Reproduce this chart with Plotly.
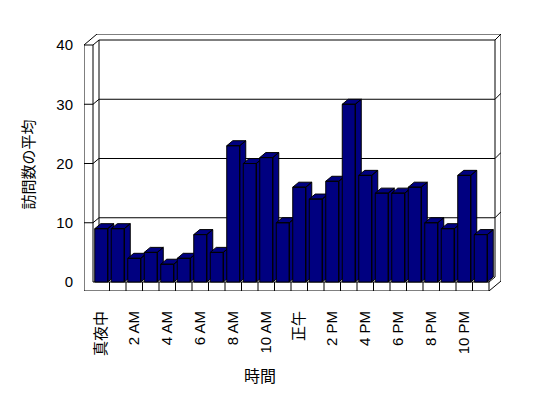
import plotly.graph_objects as go

# ---------------- data ----------------
categories = ["真夜中", "1 AM", "2 AM", "3 AM", "4 AM", "5 AM", "6 AM", "7 AM",
              "8 AM", "9 AM", "10 AM", "11 AM", "正午", "1 PM", "2 PM", "3 PM",
              "4 PM", "5 PM", "6 PM", "7 PM", "8 PM", "9 PM", "10 PM", "11 PM"]
visits = [9, 9, 4, 5, 3, 4, 8, 5, 23, 20, 21, 10, 16, 14, 17, 30,
          18, 15, 15, 16, 10, 9, 18, 8]
y_ticks = [0, 10, 20, 30, 40]
x_title = "時間"
y_title = "訪問数の平均"

# ---------------- geometry / style ----------------
W, H = 548, 398
ML, MR, MT, MB = 84, 47, 34, 107
PXX = 16.5          # px per category
PXY = 5.925         # px per value unit
N = len(categories)
X0, X1 = -0.5, N - 0.5
Y0, Y1 = 0, 40
DX, DY = 6 / PXX, 5 / PXY            # depth offset
WX, WY = 9 / PXX, 9 / PXY            # wall thickness (front)
XOUT_R = X1 + 12 / PXX
YOUT_T = Y1 + 11 / PXY
BAR_HALF = 6.5 / PXX
NAVY = "#000080"
FONT = "Liberation Sans, Noto Sans CJK JP, sans-serif"

fig = go.Figure()

# 3D bars: each bar = front + top + side polygons, painted left to right
for i, v in enumerate(visits):
    xl, xr = i - BAR_HALF, i + BAR_HALF
    xs = [xl, xr, xr, xl, xl, None,
          xl, xr, xr + DX, xl + DX, xl, None,
          xr, xr + DX, xr + DX, xr, xr]
    ys = [0, 0, v, v, 0, None,
          v, v, v + DY, v + DY, v, None,
          0, DY, v + DY, v, 0]
    fig.add_trace(go.Scatter(x=xs, y=ys, mode="lines", fill="toself",
                             fillcolor=NAVY, line=dict(color="black", width=1),
                             hoverinfo="skip", showlegend=False))

shapes = []
def seg(xa, ya, xb, yb):
    shapes.append(dict(type="line", xref="x", yref="y", x0=xa, y0=ya, x1=xb, y1=yb,
                       line=dict(color="black", width=1), layer="below"))

# frame
seg(X0 - WX, Y0 - WY, X0 - WX, Y1)
seg(X0 - WX, Y1, X0, Y1)
seg(X0, Y1, X0, Y0)
seg(X0, Y0, X1, Y0)
seg(X0 - WX, Y0 - WY, X1, Y0 - WY)
seg(X0 - WX, Y1, X0 - WX + 13 / PXX, YOUT_T)
seg(X0, Y1, X0 + DX, Y1 + DY)
seg(X0 + DX, Y1 + DY, X1 + DX, Y1 + DY)
seg(X0 - WX + 13 / PXX, YOUT_T, XOUT_R, YOUT_T)
seg(X1 + DX, Y1 + DY, XOUT_R, YOUT_T)
seg(X0 + DX, Y1 + DY, X0 + DX, Y0 + DY)
seg(X1 + DX, Y1 + DY, X1 + DX, Y0 + DY)
seg(XOUT_R, YOUT_T, XOUT_R, Y0 - WY + 10 / PXY)
seg(X1, Y0 - WY, XOUT_R, Y0 - WY + 10 / PXY)
seg(X1, Y0, X1 + DX, Y0 + DY)
for k in range(1, N + 1):
    seg(X0 + k, Y0, X0 + k, Y0 - WY)
# gridlines on walls
for t in y_ticks[1:-1]:
    seg(X0 - WX, t, X0, t)
    seg(X0, t, X0 + DX, t + DY)
    seg(X0 + DX, t + DY, X1 + DX, t + DY)
    seg(X1 + DX, t + DY, XOUT_R, t + DY + 6 / PXY)

annotations = [
    dict(text=y_title, xref="paper", yref="paper",
         x=(27.5 - ML) / (W - ML - MR), y=(H - MB - 165) / (H - MT - MB),
         xanchor="center", yanchor="middle", textangle=-90, showarrow=False,
         font=dict(family=FONT, size=15, color="black")),
    dict(text=x_title, xref="paper", yref="paper",
         x=(259.5 - ML) / (W - ML - MR), y=(H - MB - 376) / (H - MT - MB),
         xanchor="center", yanchor="middle", showarrow=False,
         font=dict(family=FONT, size=16, color="black")),
]

fig.update_layout(
    width=W, height=H,
    margin=dict(l=ML, r=MR, t=MT, b=MB),
    paper_bgcolor="white", plot_bgcolor="white",
    shapes=shapes, annotations=annotations, showlegend=False,
    font=dict(family=FONT, size=15, color="black"),
    xaxis=dict(range=[X0 - WX, XOUT_R], tickvals=list(range(0, N, 2)),
               ticktext=categories[::2], tickangle=-90, showgrid=False,
               zeroline=False, showline=False, ticks="", ticklabelstandoff=16,
               tickfont=dict(family=FONT, size=15, color="black"), fixedrange=True),
    yaxis=dict(range=[Y0 - WY, YOUT_T], tickvals=y_ticks, showgrid=False,
               zeroline=False, showline=False, ticks="", ticklabelstandoff=10,
               tickfont=dict(family=FONT, size=15, color="black"), fixedrange=True),
)

fig.write_html("out.html")
